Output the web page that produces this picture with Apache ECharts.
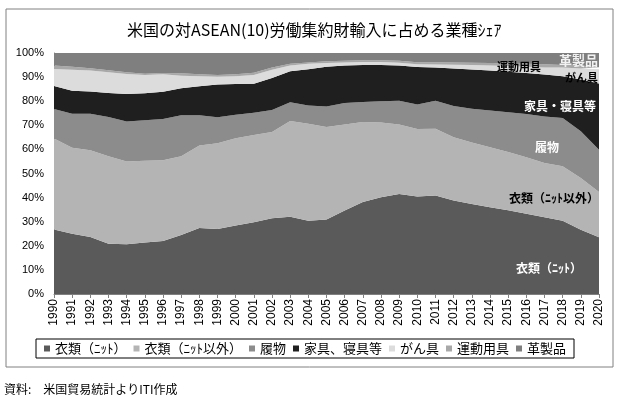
<!DOCTYPE html>
<html lang="ja">
<head>
<meta charset="UTF-8">
<title>米国の対ASEAN(10)労働集約財輸入に占める業種シェア</title>
<script src="https://cdn.jsdelivr.net/npm/echarts@6/dist/echarts.min.js"></script>
<style>
  html, body { margin: 0; padding: 0; background: #fff; }
  #main { width: 635px; height: 398px; }
</style>
</head>
<body>
<div id="main"></div>
<script type="text/javascript">
// 年
var years = ['1990', '1991', '1992', '1993', '1994', '1995', '1996', '1997', '1998', '1999',
  '2000', '2001', '2002', '2003', '2004', '2005', '2006', '2007', '2008', '2009',
  '2010', '2011', '2012', '2013', '2014', '2015', '2016', '2017', '2018', '2019', '2020'];

// 業種別シェア (%)
var knit = [26.8, 25.0, 23.7, 20.9, 20.6, 21.4, 22.0, 24.5, 27.4, 27.0,
  28.4, 29.8, 31.4, 32.1, 30.4, 30.9, 34.6, 38.2, 40.1, 41.5,
  40.5, 40.9, 38.8, 37.3, 36.0, 34.7, 33.3, 31.8, 30.4, 26.7, 23.5];
var nonKnit = [37.7, 35.7, 35.9, 36.3, 34.4, 33.9, 33.5, 32.7, 34.2, 35.6,
  36.2, 36.2, 35.8, 39.7, 40.2, 38.4, 35.7, 33.2, 31.1, 28.8,
  28.0, 27.7, 26.2, 25.6, 24.9, 24.2, 23.4, 22.6, 22.6, 21.4, 18.8];
var footwear = [12.3, 14.1, 15.2, 16.2, 16.6, 16.8, 17.1, 17.0, 12.6, 10.7,
  9.8, 9.2, 9.2, 7.8, 7.6, 8.5, 9.0, 8.3, 8.8, 9.9,
  10.1, 11.6, 13.0, 14.0, 15.2, 16.5, 18.0, 19.3, 20.0, 19.4, 17.6];
var furniture = [9.5, 9.5, 9.2, 10.0, 11.4, 11.2, 11.3, 11.2, 12.0, 13.6,
  12.7, 12.0, 13.2, 12.8, 15.1, 16.5, 15.5, 15.3, 15.0, 14.6,
  15.6, 13.8, 15.6, 16.3, 16.6, 16.8, 17.0, 17.4, 17.4, 21.5, 27.4];
var toys = [7.1, 8.7, 8.7, 8.6, 8.3, 7.6, 7.3, 5.2, 4.2, 3.2,
  3.3, 3.7, 3.4, 2.4, 2.2, 1.6, 1.3, 1.3, 1.3, 1.2,
  1.1, 1.2, 1.5, 1.8, 2.1, 2.4, 2.6, 2.9, 3.6, 4.6, 6.0];
var sports = [1.4, 1.3, 1.0, 0.8, 0.7, 0.5, 0.5, 1.0, 0.8, 0.8,
  0.8, 0.9, 1.0, 0.7, 0.6, 0.7, 0.7, 0.7, 0.7, 0.8,
  0.9, 1.0, 1.0, 1.0, 1.1, 1.1, 1.2, 1.3, 1.0, 1.0, 0.8];
var leather = [5.2, 5.7, 6.3, 7.2, 8.0, 8.6, 8.3, 8.4, 8.8, 9.1,
  8.8, 8.2, 6.0, 4.5, 3.9, 3.4, 3.2, 3.0, 3.0, 3.2,
  3.8, 3.8, 3.9, 4.0, 4.1, 4.3, 4.5, 4.7, 5.0, 5.4, 5.9];

var seriesNames = ['衣類（ﾆｯﾄ）', '衣類（ﾆｯﾄ以外）', '履物', '家具、寝具等', 'がん具', '運動用具', '革製品'];
var seriesData = [knit, nonKnit, footwear, furniture, toys, sports, leather];
var colors = ['#5a5a5a', '#b4b4b4', '#8c8c8c', '#1f1f1f', '#dcdcdc', '#a8a8a8', '#7f7f7f'];

var jpFont = '"Noto Sans CJK JP", sans-serif';
var chart = echarts.init(document.getElementById('main'));

var series = seriesNames.map(function (name, i) {
    return {
        name: name,
        type: 'line',
        stack: 'share',
        data: seriesData[i],
        symbol: 'none',
        lineStyle: { width: 0 },
        areaStyle: { color: colors[i], opacity: 1 },
        itemStyle: { color: colors[i] },
        emphasis: { disabled: true },
        animation: false
    };
});

// 図中ラベル
function inLabel(text, x, y, size, color) {
    return {
        type: 'text',
        right: 635 - x,
        top: y,
        z: 100,
        style: {
            text: text,
            fill: color,
            font: 'bold ' + size + 'px ' + jpFont
        }
    };
}

chart.setOption({
    backgroundColor: '#fff',
    color: colors,
    title: {
        text: '米国の対ASEAN(10)労働集約財輸入に占める業種ｼｪｱ',
        left: 122,
        top: 17,
        textStyle: { fontFamily: jpFont, fontSize: 16, fontWeight: 'normal', color: '#000' }
    },
    grid: { left: 54, right: 36, top: 53, bottom: 104 },
    legend: {
        left: 36,
        top: 339,
        data: seriesNames,
        icon: 'rect',
        itemWidth: 6,
        itemHeight: 6,
        itemGap: 7,
        padding: [3, 8],
        borderColor: '#000',
        borderWidth: 1,
        textStyle: { fontFamily: jpFont, fontSize: 13, color: '#000' }
    },
    xAxis: {
        type: 'category',
        boundaryGap: false,
        data: years,
        axisLine: { lineStyle: { color: '#808080' } },
        axisTick: { show: true, interval: 0, length: 4, lineStyle: { color: '#808080' } },
        axisLabel: {
            interval: 0,
            rotate: 90,
            margin: 5,
            fontFamily: 'Liberation Sans',
            fontSize: 12,
            color: '#000'
        }
    },
    yAxis: {
        type: 'value',
        min: 0,
        max: 100,
        interval: 10,
        axisLine: { show: true, lineStyle: { color: '#808080' } },
        axisTick: { show: false },
        splitLine: { show: false },
        axisLabel: {
            formatter: '{value}%',
            margin: 10,
            fontFamily: 'Liberation Sans',
            fontSize: 11,
            color: '#000'
        }
    },
    series: series,
    graphic: [
        {
            type: 'rect',
            shape: { x: 6, y: 9, width: 607, height: 358 },
            style: { fill: 'none', stroke: '#808080', lineWidth: 1 },
            silent: true
        },
        {
            type: 'text',
            left: 4,
            top: 383,
            style: { text: '資料:　米国貿易統計よりITI作成', fill: '#000', font: '12px ' + jpFont }
        },
        inLabel('革製品', 598, 54, 13, '#f2f2f2'),
        inLabel('運動用具', 541, 61, 11, '#000'),
        inLabel('がん具', 598, 72, 11, '#000'),
        inLabel('家具・寝具等', 596, 100, 12, '#fff'),
        inLabel('履物', 559, 141, 12, '#fff'),
        inLabel('衣類（ﾆｯﾄ以外）', 599, 192, 12, '#000'),
        inLabel('衣類（ﾆｯﾄ）', 582, 262, 12, '#fff')
    ]
});
</script>
</body>
</html>
